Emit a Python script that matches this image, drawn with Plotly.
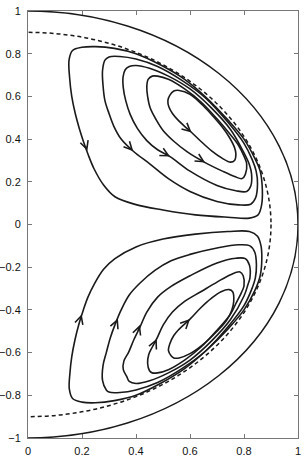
import plotly.graph_objects as go

# ---- data ----
outer_radius = 1.0
dashed_radius = 0.9

x_ticks = [0, 0.2, 0.4, 0.6, 0.8, 1]
y_ticks = [-1, -0.8, -0.6, -0.4, -0.2, 0, 0.2, 0.4, 0.6, 0.8, 1]

# upper cell streamlines (outer -> inner)
u1_x = [0.165, 0.152, 0.154, 0.162, 0.175, 0.19, 0.205, 0.222, 0.245, 0.28, 0.322, 0.40, 0.50, 0.62, 0.74, 0.82, 0.852, 0.865, 0.868, 0.86, 0.84, 0.80, 0.74, 0.66, 0.58, 0.49, 0.40, 0.32, 0.25, 0.20, 0.165]
u1_y = [0.815, 0.77, 0.69, 0.60, 0.52, 0.45, 0.39, 0.33, 0.26, 0.185, 0.13, 0.093, 0.068, 0.045, 0.034, 0.03, 0.045, 0.09, 0.16, 0.25, 0.31, 0.40, 0.49, 0.595, 0.68, 0.748, 0.80, 0.825, 0.833, 0.83, 0.815]
u2_x = [0.285, 0.276, 0.278, 0.285, 0.30, 0.318, 0.345, 0.39, 0.452, 0.52, 0.60, 0.70, 0.78, 0.825, 0.843, 0.85, 0.845, 0.83, 0.80, 0.74, 0.66, 0.57, 0.48, 0.40, 0.34, 0.30, 0.285]
u2_y = [0.77, 0.72, 0.65, 0.58, 0.52, 0.46, 0.40, 0.343, 0.283, 0.215, 0.155, 0.108, 0.092, 0.095, 0.125, 0.19, 0.25, 0.305, 0.38, 0.48, 0.59, 0.675, 0.74, 0.775, 0.787, 0.785, 0.77]
u3_x = [0.36, 0.352, 0.353, 0.362, 0.378, 0.405, 0.44, 0.48, 0.526, 0.60, 0.70, 0.77, 0.81, 0.825, 0.828, 0.82, 0.80, 0.75, 0.68, 0.60, 0.52, 0.45, 0.40, 0.375, 0.36]
u3_y = [0.725, 0.69, 0.64, 0.58, 0.517, 0.45, 0.393, 0.35, 0.318, 0.25, 0.183, 0.158, 0.155, 0.18, 0.237, 0.28, 0.335, 0.445, 0.545, 0.635, 0.695, 0.732, 0.745, 0.74, 0.725]
u4_x = [0.445, 0.44, 0.443, 0.452, 0.475, 0.501, 0.54, 0.59, 0.656, 0.72, 0.765, 0.793, 0.805, 0.81, 0.80, 0.78, 0.75, 0.70, 0.64, 0.58, 0.52, 0.48, 0.46, 0.445]
u4_y = [0.68, 0.645, 0.60, 0.548, 0.49, 0.439, 0.39, 0.34, 0.29, 0.25, 0.225, 0.215, 0.235, 0.284, 0.32, 0.37, 0.42, 0.495, 0.575, 0.635, 0.68, 0.695, 0.695, 0.68]
u5_x = [0.525, 0.518, 0.522, 0.535, 0.555, 0.58, 0.606, 0.64, 0.68, 0.72, 0.75, 0.765, 0.77, 0.765, 0.745, 0.72, 0.69, 0.65, 0.60, 0.56, 0.54, 0.525]
u5_y = [0.605, 0.58, 0.55, 0.52, 0.49, 0.46, 0.431, 0.39, 0.345, 0.31, 0.292, 0.30, 0.33, 0.36, 0.41, 0.455, 0.50, 0.555, 0.61, 0.628, 0.625, 0.605]

# lower cell streamlines (outer -> inner)
l1_x = [0.165, 0.153, 0.155, 0.162, 0.174, 0.19, 0.205, 0.222, 0.245, 0.28, 0.322, 0.40, 0.50, 0.62, 0.74, 0.82, 0.85, 0.863, 0.866, 0.86, 0.84, 0.80, 0.74, 0.66, 0.58, 0.49, 0.40, 0.32, 0.25, 0.20, 0.165]
l1_y = [-0.815, -0.77, -0.70, -0.62, -0.54, -0.46, -0.40, -0.34, -0.28, -0.21, -0.16, -0.105, -0.068, -0.045, -0.033, -0.033, -0.055, -0.10, -0.16, -0.24, -0.31, -0.40, -0.49, -0.59, -0.675, -0.745, -0.80, -0.825, -0.835, -0.832, -0.815]
l2_x = [0.29, 0.276, 0.278, 0.29, 0.305, 0.322, 0.345, 0.375, 0.415, 0.47, 0.53, 0.60, 0.70, 0.78, 0.822, 0.84, 0.846, 0.842, 0.828, 0.80, 0.74, 0.66, 0.57, 0.48, 0.40, 0.34, 0.30, 0.29]
l2_y = [-0.775, -0.73, -0.66, -0.60, -0.53, -0.47, -0.40, -0.33, -0.274, -0.215, -0.17, -0.14, -0.11, -0.095, -0.10, -0.13, -0.19, -0.25, -0.305, -0.38, -0.48, -0.59, -0.675, -0.74, -0.775, -0.787, -0.785, -0.775]
l3_x = [0.365, 0.353, 0.355, 0.372, 0.392, 0.415, 0.44, 0.48, 0.53, 0.60, 0.70, 0.77, 0.805, 0.82, 0.822, 0.815, 0.80, 0.75, 0.68, 0.60, 0.52, 0.45, 0.40, 0.375, 0.365]
l3_y = [-0.71, -0.68, -0.64, -0.60, -0.54, -0.48, -0.41, -0.34, -0.29, -0.24, -0.18, -0.158, -0.16, -0.19, -0.25, -0.28, -0.335, -0.445, -0.545, -0.635, -0.695, -0.732, -0.745, -0.735, -0.71]
l4_x = [0.45, 0.443, 0.447, 0.46, 0.477, 0.501, 0.535, 0.58, 0.64, 0.70, 0.75, 0.785, 0.797, 0.80, 0.79, 0.77, 0.75, 0.70, 0.64, 0.58, 0.52, 0.48, 0.46, 0.45]
l4_y = [-0.685, -0.65, -0.61, -0.575, -0.535, -0.47, -0.41, -0.36, -0.315, -0.27, -0.235, -0.222, -0.24, -0.287, -0.32, -0.37, -0.42, -0.495, -0.575, -0.635, -0.68, -0.695, -0.695, -0.685]
l5_x = [0.53, 0.52, 0.525, 0.54, 0.56, 0.60, 0.64, 0.68, 0.715, 0.745, 0.758, 0.762, 0.755, 0.735, 0.70, 0.65, 0.60, 0.56, 0.54, 0.53]
l5_y = [-0.615, -0.59, -0.56, -0.52, -0.49, -0.443, -0.39, -0.345, -0.315, -0.305, -0.315, -0.36, -0.40, -0.45, -0.50, -0.56, -0.605, -0.625, -0.625, -0.615]

# flow-direction arrows: head point and a point just behind it on the streamline
arrow_head_x = [0.220, 0.390, 0.526, 0.656, 0.606, 0.199, 0.333, 0.415, 0.477, 0.600]
arrow_head_y = [0.345, 0.343, 0.318, 0.290, 0.431, -0.420, -0.440, -0.470, -0.535, -0.443]
arrow_tail_x = [0.212, 0.370, 0.500, 0.630, 0.590, 0.192, 0.325, 0.405, 0.468, 0.585]
arrow_tail_y = [0.375, 0.370, 0.336, 0.310, 0.449, -0.450, -0.465, -0.505, -0.560, -0.462]

loops = [(u1_x, u1_y), (u2_x, u2_y), (u3_x, u3_y), (u4_x, u4_y), (u5_x, u5_y),
         (l1_x, l1_y), (l2_x, l2_y), (l3_x, l3_y), (l4_x, l4_y), (l5_x, l5_y)]

# ---- figure ----
INK = "#1a1a1a"
fig = go.Figure()

for lx, ly in loops:
    fig.add_trace(go.Scatter(x=lx, y=ly, mode="lines",
                             line=dict(color=INK, width=1.6, shape="spline", smoothing=1.0),
                             hoverinfo="skip", showlegend=False))

# boundary circles
fig.add_shape(type="circle", xref="x", yref="y",
              x0=-outer_radius, x1=outer_radius, y0=-outer_radius, y1=outer_radius,
              line=dict(color=INK, width=1.5))
fig.add_shape(type="circle", xref="x", yref="y",
              x0=-dashed_radius, x1=dashed_radius, y0=-dashed_radius, y1=dashed_radius,
              line=dict(color=INK, width=1.5, dash="4px,3px"))

for hx, hy, tx, ty in zip(arrow_head_x, arrow_head_y, arrow_tail_x, arrow_tail_y):
    fig.add_annotation(x=hx, y=hy, ax=tx, ay=ty, xref="x", yref="y", axref="x", ayref="y",
                       text="", showarrow=True, arrowhead=5, arrowsize=1.6,
                       arrowwidth=1.0, arrowcolor=INK, standoff=0, startstandoff=0)

axis_common = dict(showgrid=False, zeroline=False, showline=True, mirror="ticks",
                   linecolor="#777777", linewidth=1, ticks="inside", ticklen=4,
                   tickcolor="#777777", tickwidth=1, automargin=False,
                   tickfont=dict(family="Liberation Sans, Arial, sans-serif", size=11, color="#111111"))

fig.update_xaxes(range=[0, 1], tickvals=x_ticks, ticklabelstandoff=3, **axis_common)
fig.update_yaxes(range=[-1, 1], tickvals=y_ticks, ticklabelstandoff=4, **axis_common)

fig.update_layout(width=305, height=456,
                  margin=dict(l=28, r=7, t=11, b=18, autoexpand=False),
                  paper_bgcolor="white", plot_bgcolor="white",
                  showlegend=False)

# the page body has a default 8px margin; remove it so the figure sits at the window origin
fig.write_html("out.html", config={"displayModeBar": False},
               post_script="document.body.style.margin='0px';")
